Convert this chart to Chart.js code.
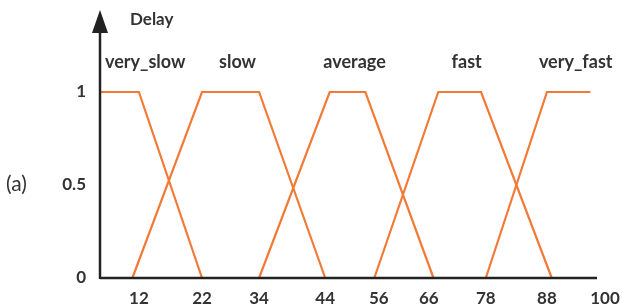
<!DOCTYPE html>
<html>
<head>
<meta charset="utf-8">
<script src="https://cdn.jsdelivr.net/npm/chart.js@4.4.1/dist/chart.umd.min.js"></script>
<style>
  html, body { margin: 0; padding: 0; background: #fff; }
  #wrap { width: 622px; height: 306px; }
</style>
</head>
<body>
<div id="wrap"><canvas id="myChart"></canvas></div>
<script>
'use strict';

// membership sets (x = delay, y = degree)
const setNames = ['very_slow', 'slow', 'average', 'fast', 'very_fast'];
const verySlowX = [0, 12, 22];
const verySlowY = [1, 1, 0];
const slowX = [10, 22, 34, 44];
const slowY = [0, 1, 1, 0];
const averageX = [34, 45, 53, 67];
const averageY = [0, 1, 1, 0];
const fastX = [55, 68, 77, 89];
const fastY = [0, 1, 1, 0];
const veryFastX = [78, 88, 97];
const veryFastY = [0, 1, 1];

const xTicks = [12, 22, 34, 44, 56, 66, 78, 88, 100];
const yTicks = [0, 0.5, 1];

// where each x tick sits along the axis (fraction of width), the drawing is not to scale
const tickSpots = [0.077, 0.202, 0.315, 0.446, 0.552, 0.651, 0.764, 0.885, 1];

const orange = '#F27A36';
const ink = '#222222';
const textCol = '#333333';
const fontName = 'Lato';

function toFraction(v) {
  const xs = [0].concat(xTicks);
  const fs = [0].concat(tickSpots);
  if (v <= xs[0]) return fs[0];
  for (let i = 1; i < xs.length; i++) {
    if (v <= xs[i]) {
      return fs[i - 1] + (v - xs[i - 1]) / (xs[i] - xs[i - 1]) * (fs[i] - fs[i - 1]);
    }
  }
  return 1;
}

class SpotScale extends Chart.LinearScale {
  getPixelForValue(value) {
    return this.getPixelForDecimal(toFraction(value));
  }
}
SpotScale.id = 'spot';
SpotScale.defaults = Chart.LinearScale.defaults;
Chart.register(SpotScale);

function pairs(xs, ys) {
  const out = [];
  for (let i = 0; i < xs.length; i++) {
    out.push({ x: xs[i], y: ys[i] });
  }
  return out;
}

const allX = [verySlowX, slowX, averageX, fastX, veryFastX];
const allY = [verySlowY, slowY, averageY, fastY, veryFastY];
const datasets = [];
for (let i = 0; i < setNames.length; i++) {
  datasets.push({
    label: setNames[i],
    data: pairs(allX[i], allY[i]),
    borderColor: orange,
    borderWidth: 2.2,
    pointRadius: 0,
    tension: 0,
    fill: false,
    clip: false
  });
}

const decorations = {
  id: 'decorations',
  afterDraw(chart) {
    const ctx = chart.ctx;
    const area = chart.chartArea;
    ctx.save();

    // x axis
    ctx.strokeStyle = ink;
    ctx.lineWidth = 2.5;
    ctx.beginPath();
    ctx.moveTo(area.left, area.bottom);
    ctx.lineTo(area.right - 8, area.bottom);
    ctx.stroke();

    // y axis with arrow
    ctx.beginPath();
    ctx.moveTo(area.left, area.bottom + 1);
    ctx.lineTo(area.left, 30);
    ctx.stroke();
    ctx.fillStyle = ink;
    ctx.beginPath();
    ctx.moveTo(area.left, 10);
    ctx.lineTo(area.left - 8, 33);
    ctx.lineTo(area.left + 8, 33);
    ctx.closePath();
    ctx.fill();

    // titles
    ctx.fillStyle = textCol;
    ctx.textBaseline = 'middle';
    ctx.textAlign = 'left';
    ctx.font = 'bold 17px ' + fontName;
    ctx.fillText('Delay', area.left + 30, 20);
    ctx.font = '21px ' + fontName;
    ctx.fillText('(a)', 6, 184);

    // set names above plateaus
    ctx.font = 'bold 18px ' + fontName;
    for (let i = 0; i < setNames.length; i++) {
      const pts = chart.getDatasetMeta(i).data;
      const top = [];
      for (let j = 0; j < pts.length; j++) {
        if (allY[i][j] === 1) top.push(pts[j].x);
      }
      const mid = (top[0] + top[top.length - 1]) / 2 + 7;
      const w = ctx.measureText(setNames[i]).width;
      const left = Math.max(mid - w / 2, area.left + 5);
      ctx.fillText(setNames[i], left, area.top - 30);
    }
    ctx.restore();
  }
};

new Chart(document.getElementById('myChart'), {
  type: 'line',
  data: { datasets: datasets },
  options: {
    responsive: true,
    maintainAspectRatio: false,
    animation: false,
    layout: { padding: { top: 92, right: 17, left: 40, bottom: 0 } },
    plugins: {
      legend: { display: false },
      tooltip: { enabled: false }
    },
    scales: {
      x: {
        type: 'spot',
        min: 0,
        max: 100,
        afterBuildTicks: function (s) {
          s.ticks = xTicks.map(v => ({ value: v }));
        },
        afterFit: function (s) {
          s.height = 28;
          s.paddingLeft = 0;
          s.paddingRight = 0;
        },
        grid: { display: false, drawTicks: false },
        border: { display: false },
        ticks: {
          color: textCol,
          padding: 10,
          maxRotation: 0,
          autoSkip: false,
          font: { family: fontName, size: 17, weight: 'bold' }
        }
      },
      y: {
        type: 'linear',
        min: 0,
        max: 1,
        afterBuildTicks: function (s) {
          s.ticks = yTicks.map(v => ({ value: v }));
        },
        afterFit: function (s) { s.width = 60; },
        grid: { display: false, drawTicks: false },
        border: { display: false },
        ticks: {
          color: textCol,
          padding: 14,
          callback: v => String(v),
          font: { family: fontName, size: 17, weight: 'bold' }
        }
      }
    }
  },
  plugins: [decorations]
});
</script>
</body>
</html>
